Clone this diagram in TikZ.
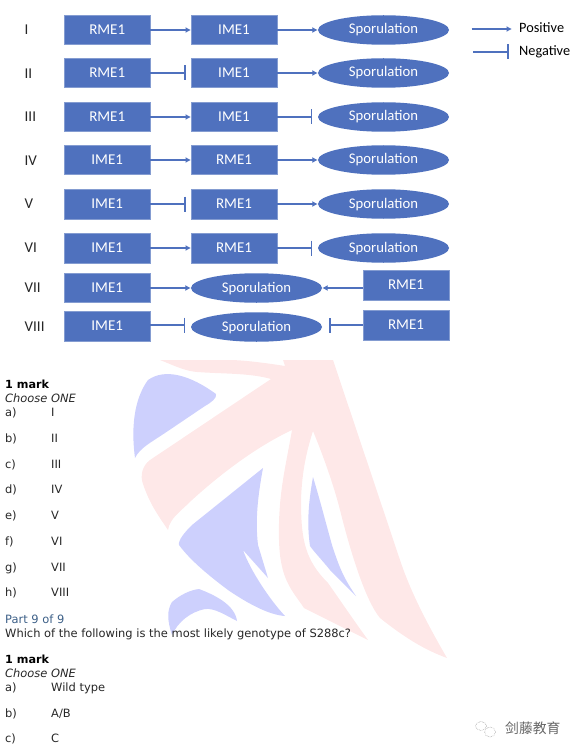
\documentclass[tikz,border=0pt]{standalone}
\usepackage{fontspec}
\setmainfont{Carlito}
\newfontfamily\qfont{DejaVu Sans}
\newfontfamily\cjkf{Noto Sans CJK SC}
\usetikzlibrary{arrows.meta,shapes.geometric}
\definecolor{boxblue}{RGB}{79,113,190}
\definecolor{wmblue}{RGB}{205,208,253}
\definecolor{wmpink}{RGB}{254,232,232}
\definecolor{parttxt}{RGB}{60,95,135}
\tikzset{
 x=1pt,y=-1pt,
 gene/.style={draw=boxblue!70!white,line width=.5pt,fill=boxblue,text=white,minimum width=85.5pt,minimum height=29.5pt,inner sep=0,text height=9pt,text depth=0pt,font=\fontsize{15}{15}\selectfont},
 spo/.style={ellipse,fill=boxblue,text=white,minimum width=131pt,minimum height=29.5pt,inner sep=0,text height=8pt,text depth=0pt,font=\fontsize{14.7}{15}\selectfont},
 rown/.style={anchor=west,inner sep=0,font=\fontsize{15}{15}\selectfont,text=black!85},
 posarrow/.style={draw=boxblue,line width=1.5pt,-{Latex[length=5.5pt,width=6pt]}},
 negarrow/.style={draw=boxblue,line width=1.5pt,-{Bar[width=15pt,line width=1.5pt]},shorten >=5.5pt},
 negl/.style={draw=boxblue,line width=1.5pt,-{Bar[width=15pt,line width=1.5pt]}},
 q/.style={anchor=base west,inner sep=0,font=\qfont\fontsize{11.45}{11.45}\selectfont,text=black!85},
 qb/.style={q,font=\qfont\bfseries\fontsize{11.2}{11.2}\selectfont,text=black},
 qi/.style={q,font=\qfont\itshape\fontsize{11.45}{11.45}\selectfont},
}
\begin{document}
\begin{tikzpicture}
\useasboundingbox (0,0) rectangle (579,754);
% watermark
\fill[wmpink] (160,360) .. controls (175,366) and (185,371) .. (197,372) .. controls (225,374) and (250,373) .. (271,379) -- (150,460)
 .. controls (142,466) and (140,476) .. (143,484) .. controls (150,505) and (160,518) .. (168,530) .. controls (170,518) and (180,512) .. (192,500) .. controls (225,470) and (260,445) .. (292,430)
 .. controls (285,470) and (278,495) .. (279,540) .. controls (280,580) and (292,590) .. (304,608) -- (368,640) .. controls (350,615) and (340,600) .. (328,583) .. controls (305,560) and (301,540) .. (301,500) .. controls (302,470) and (307,450) .. (313,431)
 .. controls (325,460) and (335,490) .. (340,510) .. controls (350,550) and (365,600) .. (380,618) .. controls (405,638) and (425,650) .. (447,658) .. controls (425,620) and (410,590) .. (400,560) -- (333,360) -- (283,360) -- (285,366) .. controls (260,362) and (240,360) .. (230,360) -- cycle;
\fill[wmblue] (135,458) .. controls (130,420) and (137,395) .. (148,380) .. controls (165,368) and (190,375) .. (216,394) .. controls (217,398) and (212,402) .. (205,406) -- (165,433) .. controls (150,443) and (140,448) .. (135,458) -- cycle;
\fill[wmblue] (263,468) .. controls (258,495) and (255,520) .. (258,545) -- (268,578) -- (243,550) .. controls (250,570) and (270,600) .. (285,616) .. controls (270,615) and (250,605) .. (228,590) .. controls (208,575) and (190,560) .. (179,545) .. controls (178,540) and (185,532) .. (192,525) -- cycle;
\fill[wmblue] (313,477) .. controls (320,500) and (325,520) .. (332,545) .. controls (340,570) and (345,580) .. (356,596) -- (330,570) .. controls (322,560) and (315,553) .. (310,546) .. controls (307,525) and (308,505) .. (313,477) -- cycle;
\fill[wmblue] (172,635) .. controls (167,620) and (167,610) .. (172,602) .. controls (180,595) and (190,590) .. (199,589) .. controls (215,595) and (235,605) .. (237,621) .. controls (225,615) and (215,608) .. (205,609) .. controls (190,612) and (178,622) .. (172,635) -- cycle;
% diagram
\foreach \n/\lab/\y in {I/I/30,II/II/73.5,III/III/117,IV/IV/160.5,V/V/204,VI/VI/247.5,VII/VII/288,VIII/VIII/327}
  \node[rown] (r\n) at (24.5,\y) {\lab};
\node[gene] (a1) at (107.2,30) {RME1};
\node[gene] (b1) at (234,30) {IME1};
\node[spo] (c1) at (383.5,30) {Sporulation};
\node[gene] (a2) at (107.2,73) {RME1};
\node[gene] (b2) at (234,73) {IME1};
\node[spo] (c2) at (383.5,73) {Sporulation};
\node[gene] (a3) at (107.2,117) {RME1};
\node[gene] (b3) at (234,117) {IME1};
\node[spo] (c3) at (383.5,117) {Sporulation};
\node[gene] (a4) at (107.2,160) {IME1};
\node[gene] (b4) at (234,160) {RME1};
\node[spo] (c4) at (383.5,160) {Sporulation};
\node[gene] (a5) at (107.2,204) {IME1};
\node[gene] (b5) at (234,204) {RME1};
\node[spo] (c5) at (383.5,204) {Sporulation};
\node[gene] (a6) at (107.2,248) {IME1};
\node[gene] (b6) at (234,248) {RME1};
\node[spo] (c6) at (383.5,248) {Sporulation};
\node[gene] (a7) at (107.2,287.5) {IME1};
\node[spo] (c7) at (256.5,288) {Sporulation};
\node[gene] (d7) at (406,285) {RME1};
\node[gene] (a8) at (107.2,326.4) {IME1};
\node[spo] (c8) at (256.5,327) {Sporulation};
\node[gene] (d8) at (406,325) {RME1};
\draw[posarrow] (a1) -- (b1);
\draw[posarrow] (b1) -- (c1);
\draw[negarrow] (a2) -- (b2);
\draw[posarrow] (b2) -- (c2);
\draw[posarrow] (a3) -- (b3);
\draw[negarrow] (b3) -- (c3);
\draw[posarrow] (a4) -- (b4);
\draw[posarrow] (b4) -- (c4);
\draw[negarrow] (a5) -- (b5);
\draw[posarrow] (b5) -- (c5);
\draw[posarrow] (a6) -- (b6);
\draw[negarrow] (b6) -- (c6);
\draw[posarrow] (a7.east |- c7.west) -- (c7.west);
\draw[posarrow] (d7.west |- c7.east) -- (c7.east);
\draw[negarrow] (a8.east |- d8.west) -- (c8.west |- d8.west);
\draw[negarrow,shorten >=7pt] (d8.west) -- (d8.west -| c8.east);
% legend
\coordinate (p1) at (471.5,29); \coordinate (p2) at (512,29);
\coordinate (n1) at (473,52); \coordinate (n2) at (508.5,52);
\draw[posarrow] (p1) -- (p2);
\draw[negl] (n1) -- (n2);
\node[rown,text=black,font=\fontsize{14.3}{14.3}\selectfont] (lp) at (519,27.5) {Positive};
\node[rown,text=black,font=\fontsize{14.3}{14.3}\selectfont] (ln) at (519,52) {Negative};
% text
\node[qb] (t1) at (5,388) {1 mark};
\node[qi] (t2) at (5,402) {Choose ONE};
\foreach \k/\l/\v/\y in {a/a)/I/416,b/b)/II/442,c/c)/III/468,d/d)/IV/493,e/e)/V/519,f/f)/VI/545,g/g)/VII/571,h/h)/VIII/596}{
  \node[q] (o\k) at (5,\y) {\l};
  \node[q] (v\k) at (51,\y) {\v};
}
\node[q,text=parttxt] (part) at (5,623) {Part 9 of 9};
\node[q] (ques) at (5,637) {Which of the following is the most likely genotype of S288c?};
\node[qb] (t3) at (5,663) {1 mark};
\node[qi] (t4) at (5,677) {Choose ONE};
\node[q] (oa2) at (5,691) {a)};
\node[q] (va2) at (51,691) {Wild type};
\node[q] (ob2) at (5,717) {b)};
\node[q] (vb2) at (51,717) {A/B};
\node[q] (oc2) at (5,742) {c)};
\node[q] (vc2) at (51,742) {C};
% wechat mark
\node[anchor=west,inner sep=0,text=black!60,font=\cjkf\fontsize{13.8}{13.8}\selectfont] (wm) at (505,728) {剑藤教育};
\draw[black!45,line width=.5pt,densely dotted] (481,726) ellipse (5.5pt and 4.5pt);
\draw[black!45,line width=.5pt,densely dotted] (490,732) ellipse (5.5pt and 5pt);
\end{tikzpicture}
\end{document}
